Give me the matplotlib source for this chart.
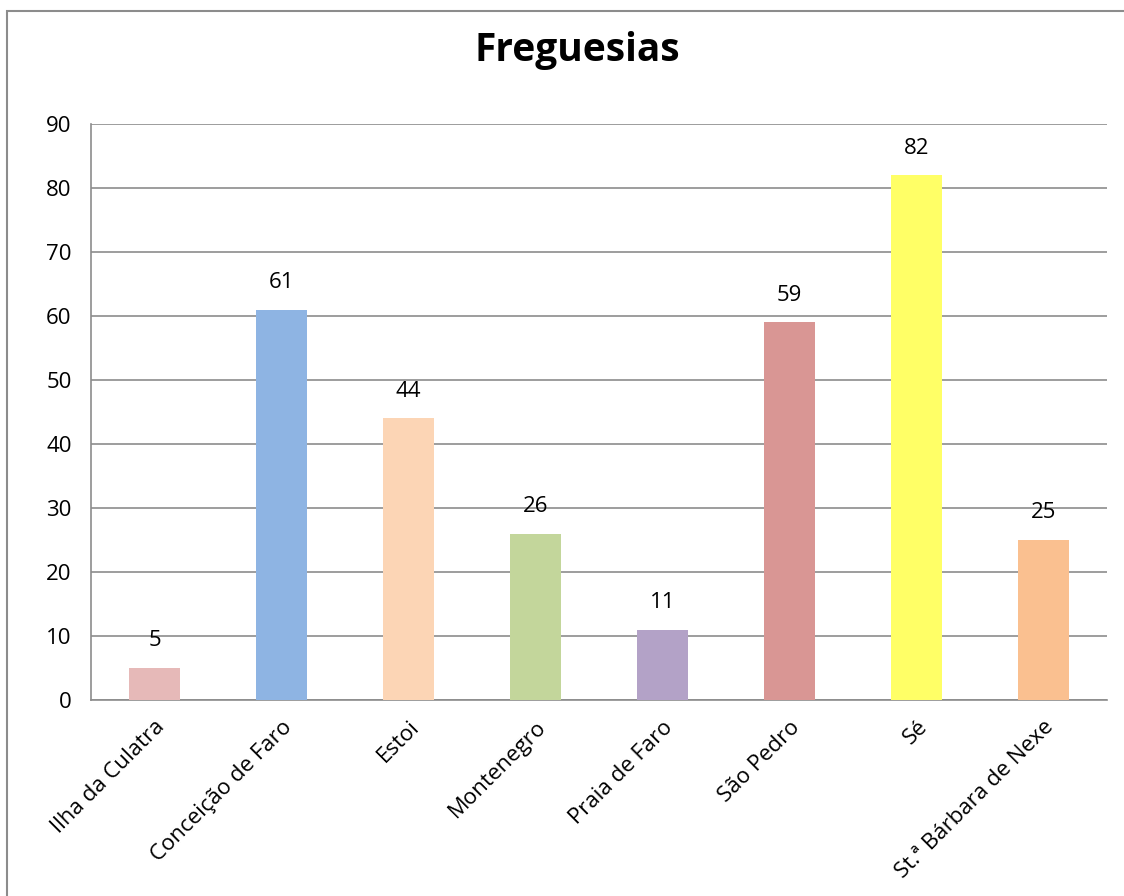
import matplotlib
matplotlib.use("Agg")
import matplotlib.pyplot as plt
from matplotlib.patches import Rectangle

plt.rcParams['font.family'] = ['Open Sans', 'DejaVu Sans']

freguesias = ["Ilha da Culatra", "Conceição de Faro", "Estoi", "Montenegro",
              "Praia de Faro", "São Pedro", "Sé", "St.ª Bárbara de Nexe"]
valores = [5, 61, 44, 26, 11, 59, 82, 25]
cores = ["#E6B9B8", "#8EB4E3", "#FCD5B5", "#C3D69B",
         "#B3A2C7", "#D99694", "#FFFF66", "#FAC090"]

fig = plt.figure(figsize=(11.24, 8.96), dpi=100)
ax = fig.add_axes([91/1124, 1 - 700/896, 1016/1124, 576/896])

x = range(len(freguesias))
bars = ax.bar(x, valores, width=0.4, color=cores, zorder=3)
for b, v in zip(bars, valores):
    ax.text(b.get_x() + b.get_width()/2, v + 2.6, str(v), ha='center', va='bottom',
            fontsize=16, color='black')

ax.set_xlim(-0.5, len(freguesias) - 0.5)
ax.set_ylim(0, 90)
ax.set_yticks(range(0, 91, 10))
ax.yaxis.grid(True, color='#8C8C8C', linewidth=1.2, zorder=0)
ax.set_xticks(list(x))
ax.set_xticklabels(freguesias, rotation=45, ha='right', rotation_mode='anchor', fontsize=16)
ax.tick_params(axis='y', labelsize=16, length=0, pad=14)
ax.tick_params(axis='x', length=0, pad=12)
for s in ['top', 'right']:
    ax.spines[s].set_visible(False)
for s in ['left', 'bottom']:
    ax.spines[s].set_color('#8C8C8C')
    ax.spines[s].set_linewidth(1.2)

fig.text(577/1124, 1 - 50/896, "Freguesias", ha='center', va='center',
         fontsize=28, fontweight='bold')

# chart frame
fig.patches.append(Rectangle((7/1124, -0.1), 1.2, 1 - 11/896 + 0.1,
                             transform=fig.transFigure, fill=False,
                             edgecolor='#8C8C8C', linewidth=1.5))

fig.savefig("out.png", dpi=100)
